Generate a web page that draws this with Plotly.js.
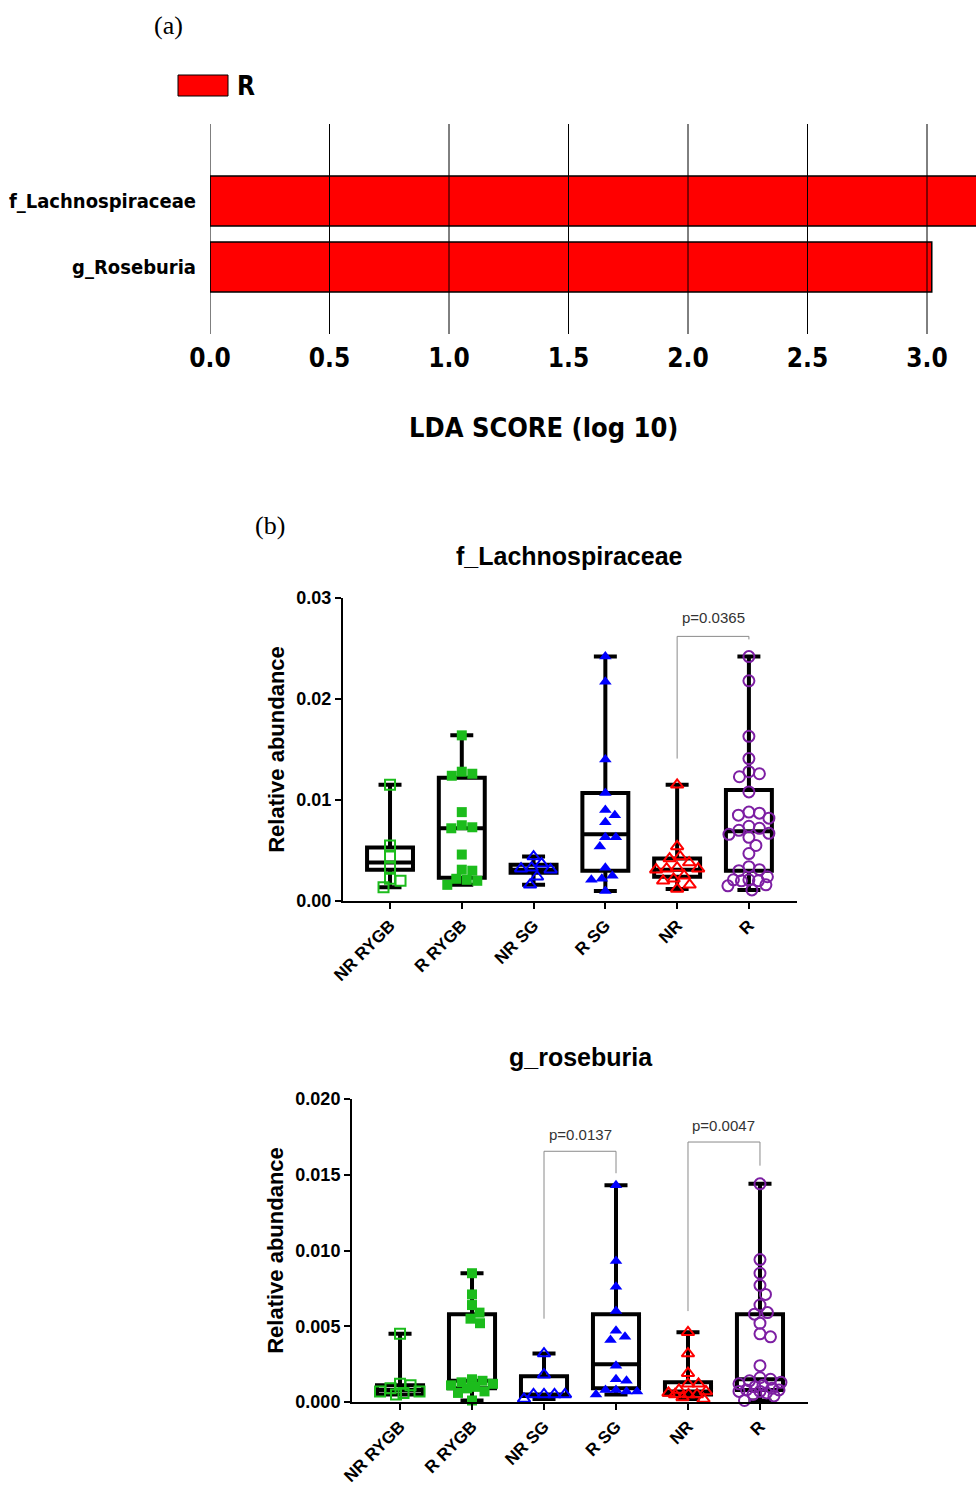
<!DOCTYPE html>
<html>
<head>
<meta charset="utf-8">
<script src="https://cdn.plot.ly/plotly-3.0.1.min.js"></script>
<style>html,body{margin:0;padding:0;background:#fff;}#chart{width:976px;height:1488px;}</style>
</head>
<body>
<div id="chart"></div>
<script>
// ---------------- DATA ----------------
// Panel (a): LDA scores
const ldaTaxa = ['g_Roseburia', 'f_Lachnospiraceae'];
const ldaScores = [3.02, 3.30];
const ldaTicks = [0, 0.5, 1.0, 1.5, 2.0, 2.5, 3.0];
const ldaGroup = 'R';

// Panel (b): groups
const groups = ['NR RYGB', 'R RYGB', 'NR SG', 'R SG', 'NR', 'R'];

// f_Lachnospiraceae relative abundance
const lachNR_RYGB = [0.0115, 0.0055, 0.0044, 0.0033, 0.0022, 0.0020, 0.00135];
const lachR_RYGB  = [0.0164, 0.0128, 0.0124, 0.0126, 0.0088, 0.0073, 0.0075, 0.0072, 0.0046, 0.0030, 0.0031, 0.0022, 0.0020, 0.0021, 0.0016];
const lachNR_SG   = [0.0044, 0.0033, 0.0031, 0.0032, 0.0037, 0.0024, 0.0016];
const lachR_SG    = [0.0242, 0.0217, 0.0140, 0.0107, 0.0085, 0.0090, 0.0078, 0.0063, 0.0063, 0.0054, 0.0033, 0.0025, 0.0022, 0.0021, 0.0010];
const lachNR      = [0.0115, 0.0054, 0.0044, 0.0033, 0.0038, 0.0042, 0.0031, 0.0032, 0.0032, 0.0025, 0.0022, 0.0016, 0.0020, 0.0012];
const lachR       = [0.0242, 0.0218, 0.0163, 0.0141, 0.0126, 0.0128, 0.0123, 0.0108, 0.0088, 0.0087, 0.0085, 0.0082, 0.0074, 0.0072, 0.0070, 0.0067, 0.0066, 0.0063, 0.0055, 0.0047, 0.0034, 0.0031, 0.0030, 0.0024, 0.0021, 0.0021, 0.0020, 0.0020, 0.0016, 0.0015, 0.0011];
const lachQ1  = [0.0031, 0.0023, 0.0028, 0.0030, 0.0024, 0.0030];
const lachMed = [0.0038, 0.0072, 0.0031, 0.0066, 0.0031, 0.0069];
const lachQ3  = [0.0053, 0.0122, 0.0036, 0.0107, 0.0042, 0.0110];
const lachYTicks = [0, 0.01, 0.02, 0.03];
// significance bracket: [from group index, to group index], height, left end, right end, label
const lachBrFrom = [4], lachBrTo = [5], lachBrH = [0.0262], lachBrL = [0.0141], lachBrR = [0.0259], lachBrText = ['p=0.0365'];

// g_roseburia relative abundance
const rosNR_RYGB = [0.0045, 0.0012, 0.0011, 0.0009, 0.0007, 0.0007, 0.0006, 0.0005];
const rosR_RYGB  = [0.0085, 0.0071, 0.0064, 0.0059, 0.0055, 0.0052, 0.0015, 0.0014, 0.0013, 0.0012, 0.0011, 0.0010, 0.0009, 0.0007, 0.0006, 0.0001];
const rosNR_SG   = [0.0032, 0.0018, 0.0005, 0.0005, 0.0005, 0.0005, 0.0002];
const rosR_SG    = [0.0143, 0.0093, 0.0076, 0.0060, 0.0047, 0.0043, 0.0041, 0.0024, 0.0015, 0.0014, 0.0008, 0.0008, 0.0007, 0.0007, 0.0005];
const rosNR      = [0.0046, 0.0032, 0.0019, 0.0012, 0.0012, 0.0008, 0.0007, 0.0006, 0.0005, 0.0005, 0.0005, 0.0003, 0.0002];
const rosR       = [0.0144, 0.0094, 0.0085, 0.0077, 0.0071, 0.0064, 0.0059, 0.0058, 0.0052, 0.0045, 0.0043, 0.0024, 0.0016, 0.0015, 0.0014, 0.0013, 0.0012, 0.0011, 0.0010, 0.0009, 0.0008, 0.0008, 0.0007, 0.0007, 0.0006, 0.0005, 0.0004, 0.0001];
const rosQ1  = [0.0005, 0.0009, 0.0004, 0.0009, 0.0005, 0.0008];
const rosMed = [0.0008, 0.0014, 0.0005, 0.0025, 0.0007, 0.0015];
const rosQ3  = [0.0011, 0.0058, 0.0017, 0.0058, 0.0013, 0.0058];
const rosYTicks = [0, 0.005, 0.010, 0.015, 0.020];
const rosBrFrom = [2, 4], rosBrTo = [3, 5], rosBrH = [0.01655, 0.01716], rosBrL = [0.0055, 0.0060], rosBrR = [0.0151, 0.0156], rosBrText = ['p=0.0137', 'p=0.0047'];

// ---------------- STYLE ----------------
const W = 976, H = 1488;
const NARROW = "'Liberation Sans Narrow', 'Arial Narrow', 'DejaVu Sans Condensed', 'DejaVu Sans', sans-serif";
const ARIAL = "'Liberation Sans', Arial, Helvetica, sans-serif";
const SERIF = "'Liberation Serif', 'Times New Roman', serif";
const markerStyles = [
  {symbol: 'square-open', color: '#1cbc1c', size: 10},
  {symbol: 'square', color: '#1cbc1c', size: 10},
  {symbol: 'triangle-up-open', color: '#0000ff', size: 11},
  {symbol: 'triangle-up', color: '#0000ff', size: 11},
  {symbol: 'triangle-up-open', color: '#ff0000', size: 11},
  {symbol: 'circle-open', color: '#7d1fa3', size: 11}
];

const px = v => v / W;          // horizontal px -> paper
const py = v => 1 - v / H;      // vertical px (from top) -> paper

// layout geometry (pixels)
const A = {x0: 210, x1: 976, y0: 124, y1: 334, xr: [0, 3.205], yr: [-1.015, 2.167]};
const B1 = {x0: 343, x1: 797, y0: 598, y1: 901, xr: [-0.655, 5.67], yr: [0, 0.03]};
const B2 = {x0: 352, x1: 808, y0: 1099, y1: 1402, xr: [-0.667, 5.667], yr: [0, 0.02]};

// beeswarm-like layout limited to a max spread: returns x offsets (data units)
function swarm(vals, geo, D, maxOff) {
  const kx = (geo.x1 - geo.x0) / (geo.xr[1] - geo.xr[0]);
  const ky = (geo.y1 - geo.y0) / (geo.yr[1] - geo.yr[0]);
  const order = vals.map((v, i) => i).sort((a, b) => vals[b] - vals[a]);
  const placed = [];
  const off = new Array(vals.length).fill(0);
  const cands = [0];
  for (let k = 1; k * 0.5 <= maxOff; k++) cands.push(k * 0.5, -k * 0.5);
  for (const i of order) {
    const y = vals[i] * ky;
    let best = null, bestScore = -1, bestDx = 0;
    for (const dx of cands) {
      let md = Infinity;
      for (const p of placed) md = Math.min(md, Math.hypot(p.x - dx, p.y - y));
      if (md >= D) { best = dx; break; }
      if (md > bestScore + 0.5) { bestScore = md; bestDx = dx; }
    }
    if (best === null) best = bestDx;
    placed.push({x: best, y: y});
    off[i] = best / kx;
  }
  return off;
}

const traces = [];

// Panel (a) bars
traces.push({
  type: 'bar', orientation: 'h', y: ldaTaxa, x: ldaScores, xaxis: 'x', yaxis: 'y',
  width: 0.76, marker: {color: '#ff0000', line: {color: '#000', width: 1.5}},
  showlegend: false, hoverinfo: 'skip'
});

function addBoxPlot(series, q1, med, q3, geo, xa, ya) {
  const pos = groups.map((g, i) => i);
  traces.push({
    type: 'box', x: pos, q1: q1, median: med, q3: q3,
    lowerfence: series.map(s => Math.min(...s)),
    upperfence: series.map(s => Math.max(...s)),
    xaxis: xa, yaxis: ya, width: 0.64, whiskerwidth: 0.5,
    line: {color: '#000', width: 4}, fillcolor: 'rgba(0,0,0,0)',
    boxpoints: false, showlegend: false, hoverinfo: 'skip'
  });
  series.forEach((vals, gi) => {
    const ms = markerStyles[gi];
    const off = swarm(vals, geo, 10.5, 21);
    traces.push({
      type: 'scatter', mode: 'markers', xaxis: xa, yaxis: ya, cliponaxis: false,
      x: vals.map((v, i) => gi + off[i]), y: vals,
      marker: {symbol: ms.symbol, color: ms.color, size: ms.size,
               line: {color: ms.color, width: ms.symbol.endsWith('open') ? 2 : 0}},
      showlegend: false, hoverinfo: 'skip'
    });
  });
}

addBoxPlot([lachNR_RYGB, lachR_RYGB, lachNR_SG, lachR_SG, lachNR, lachR], lachQ1, lachMed, lachQ3, B1, 'x2', 'y2');
addBoxPlot([rosNR_RYGB, rosR_RYGB, rosNR_SG, rosR_SG, rosNR, rosR], rosQ1, rosMed, rosQ3, B2, 'x3', 'y3');

// shapes
const shapes = [];
// gridlines over bars (panel a)
ldaTicks.forEach(t => shapes.push({type: 'line', xref: 'x', yref: 'y domain', x0: t, x1: t, y0: 0, y1: 1,
  line: {color: '#000', width: 1}, layer: 'above'}));
// legend swatch (panel a)
shapes.push({type: 'rect', xref: 'paper', yref: 'paper', x0: px(178), x1: px(228), y0: py(96), y1: py(75),
  fillcolor: '#ff0000', line: {color: '#000', width: 1}});

const annotations = [];
function addBrackets(from, to, h, le, re, txt, xa, ya, shift) {
  from.forEach((f, i) => {
    shapes.push({type: 'path', xref: xa, yref: ya,
      path: `M ${f},${le[i]} L ${f},${h[i]} L ${to[i]},${h[i]} L ${to[i]},${re[i]}`,
      line: {color: '#8a8a8a', width: 1}});
    annotations.push({xref: xa, yref: ya, x: (f + to[i]) / 2, y: h[i], text: txt[i], showarrow: false,
      xanchor: 'center', yanchor: 'bottom', yshift: shift, font: {family: ARIAL, size: 15, color: '#333'}});
  });
}
addBrackets(lachBrFrom, lachBrTo, lachBrH, lachBrL, lachBrR, lachBrText, 'x2', 'y2', 8);
addBrackets(rosBrFrom, rosBrTo, rosBrH, rosBrL, rosBrR, rosBrText, 'x3', 'y3', 6);

function ann(text, x, y, font, xanchor) {
  annotations.push({xref: 'paper', yref: 'paper', x: px(x), y: py(y), text: text, showarrow: false,
    xanchor: xanchor || 'center', yanchor: 'middle', font: font});
}
ann('(a)', 168, 25, {family: SERIF, size: 26, color: '#000'});
ann('(b)', 270, 525, {family: SERIF, size: 26, color: '#000'});
ann(ldaGroup, 235, 86, {family: NARROW, size: 26, color: '#000', weight: 'bold'}, 'left');
ann('LDA SCORE (log 10)', 543, 428, {family: NARROW, size: 27, color: '#000', weight: 'bold'});
ann('f_Lachnospiraceae', 569, 556, {family: ARIAL, size: 25, color: '#000', weight: 'bold'});
ann('g_roseburia', 581, 1057, {family: ARIAL, size: 25, color: '#000', weight: 'bold'});

function bx(geo, anchor) {
  return {domain: [px(geo.x0), px(geo.x1)], range: geo.xr, anchor: anchor,
    tickmode: 'array', tickvals: groups.map((g, i) => i), ticktext: groups,
    tickangle: -45, ticks: 'outside', ticklen: 6, tickwidth: 2, tickcolor: '#000',
    showline: true, linewidth: 2, linecolor: '#000', showgrid: false, zeroline: false,
    tickfont: {family: ARIAL, size: 17, color: '#000', weight: 'bold'}, fixedrange: true};
}
function by(geo, anchor, ticks, fmt) {
  return {domain: [py(geo.y1), py(geo.y0)], range: geo.yr, anchor: anchor,
    tickmode: 'array', tickvals: ticks, tickformat: fmt,
    ticks: 'outside', ticklen: 6, tickwidth: 2, tickcolor: '#000',
    showline: true, linewidth: 2, linecolor: '#000', showgrid: false, zeroline: false,
    tickfont: {family: ARIAL, size: 18, color: '#000', weight: 'bold'},
    title: {text: 'Relative abundance', standoff: 6, font: {family: ARIAL, size: 22, color: '#000', weight: 'bold'}},
    fixedrange: true};
}

const layout = {
  width: W, height: H, margin: {l: 0, r: 0, t: 0, b: 0},
  paper_bgcolor: '#fff', plot_bgcolor: 'rgba(0,0,0,0)', showlegend: false,
  xaxis: {domain: [px(A.x0), px(A.x1)], range: A.xr, anchor: 'y', tickmode: 'array', tickvals: ldaTicks,
    tickformat: '.1f', ticks: 'outside', ticklen: 1, tickcolor: 'rgba(0,0,0,0)', showgrid: false,
    showline: false, zeroline: false, tickfont: {family: NARROW, size: 26, color: '#000', weight: 'bold'}},
  yaxis: {domain: [py(A.y1), py(A.y0)], range: A.yr, anchor: 'x', type: 'category',
    ticks: 'outside', ticklen: 9, tickcolor: 'rgba(0,0,0,0)', showgrid: false, showline: false, zeroline: false,
    tickfont: {family: NARROW, size: 20, color: '#000', weight: 'bold'}},
  xaxis2: bx(B1, 'y2'), yaxis2: by(B1, 'x2', lachYTicks, '.2f'),
  xaxis3: bx(B2, 'y3'), yaxis3: by(B2, 'x3', rosYTicks, '.3f'),
  shapes: shapes, annotations: annotations
};

Plotly.newPlot('chart', traces, layout, {displayModeBar: false, staticPlot: true});
</script>
</body>
</html>
